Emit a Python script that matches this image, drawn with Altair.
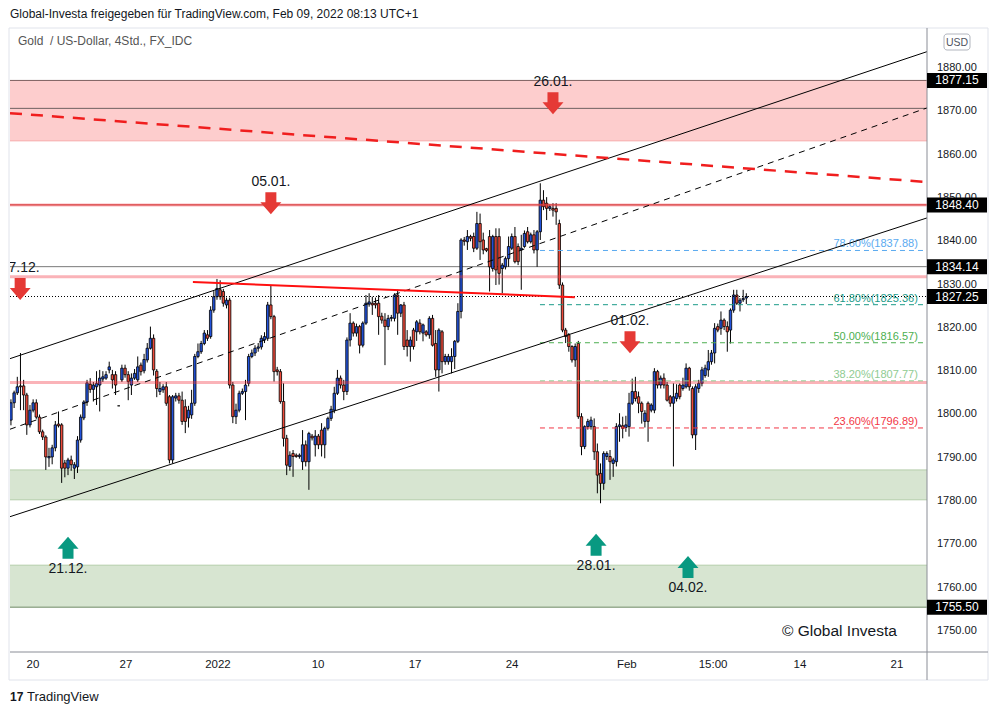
import altair as alt
import pandas as pd

# ---------------- candle data (4h bars) ----------------
open_ = [
1798.7,1802.7,1805.0,1806.6,1806.6,1804.5,1797.6,1801.0,1802.7,1799.4,
1796.0,1794.8,1790.0,1790.2,1792.3,1797.8,1797.6,1788.8,1787.6,1789.5,
1787.6,1787.9,1794.1,1799.2,1802.9,1807.0,1805.8,1806.4,1806.8,1808.2,
1808.4,1810.3,1809.2,1809.2,1802.0,1808.0,1810.7,1809.2,1806.8,1808.4,
1808.0,1811.4,1810.1,1812.6,1815.3,1817.6,1810.0,1805.3,1805.7,1806.4,
1804.1,1789.5,1803.8,1804.3,1803.3,1801.8,1799.2,1799.9,1802.6,1813.4,
1814.5,1816.4,1818.4,1818.0,1824.1,1827.2,1828.8,1828.4,1825.3,1826.4,
1806.8,1799.5,1801.0,1804.9,1805.3,1807.2,1813.4,1814.2,1815.3,1815.6,
1817.2,1817.6,1825.3,1822.6,1810.3,1809.9,1803.0,1794.5,1788.0,1791.0,
1790.6,1790.3,1789.1,1793.0,1789.1,1795.0,1793.0,1795.0,1796.4,1793.0,
1796.8,1799.1,1801.0,1804.9,1808.4,1806.8,1805.3,1817.2,1821.1,1818.8,
1820.3,1816.0,1821.1,1825.5,1825.7,1825.7,1825.7,1822.7,1821.8,1820.3,
1822.2,1822.2,1827.6,1823.4,1825.3,1817.2,1815.7,1819.5,1819.1,1821.1,
1818.8,1819.1,1818.4,1822.2,1816.4,1810.3,1819.1,1812.2,1812.2,1812.2,
1813.4,1816.9,1823.8,1840.3,1839.9,1841.1,1841.1,1838.4,1844.1,1840.3,
1838.3,1841.1,1833.7,1841.1,1841.1,1833.7,1834.1,1836.0,1838.4,1841.1,
1838.8,1838.0,1838.8,1842.2,1839.9,1841.5,1838.0,1842.2,1849.5,1848.8,
1847.6,1847.6,1847.6,1844.1,1829.9,1819.5,1818.4,1815.7,1812.6,1816.4,
1799.5,1792.6,1797.2,1797.2,1797.2,1791.4,1786.4,1784.1,1790.3,1790.3,
1788.7,1789.1,1797.2,1797.4,1797.0,1797.2,1802.6,1805.3,1804.1,1802.6,
1798.4,1802.6,1801.0,1801.0,1809.9,1806.8,1808.4,1806.8,1804.1,1802.6,
1803.7,1806.8,1806.0,1806.4,1810.7,1806.0,1795.3,1806.0,1807.2,1809.0,
1810.3,1812.2,1814.2,1820.3,1819.9,1821.8,1820.3,1819.5,1824.1,1827.6,
1825.7,1826.5,1826.9]

high = [
1803.5,1805.5,1808.7,1814.2,1808.0,1805.0,1802.2,1803.5,1803.5,1800.0,
1796.5,1795.2,1792.3,1793.0,1798.5,1800.7,1798.0,1789.5,1790.0,1790.5,
1789.0,1795.0,1800.0,1803.3,1808.0,1808.4,1807.5,1810.0,1810.3,1810.0,
1810.0,1812.2,1810.3,1810.0,1802.0,1811.5,1811.5,1810.0,1809.5,1810.5,
1813.4,1812.0,1814.0,1816.5,1820.3,1818.5,1810.5,1807.5,1807.0,1807.5,
1804.5,1804.5,1805.0,1805.0,1805.3,1803.5,1802.0,1805.7,1814.0,1816.4,
1817.0,1819.5,1819.5,1825.0,1828.5,1831.3,1831.0,1829.0,1827.0,1827.0,
1807.5,1802.5,1805.5,1806.0,1808.0,1814.0,1815.0,1816.0,1816.5,1818.3,
1819.0,1826.0,1829.7,1823.0,1811.0,1810.5,1807.2,1795.3,1791.5,1791.8,
1791.0,1791.0,1796.4,1794.0,1796.0,1795.5,1796.4,1795.5,1798.0,1797.2,
1799.5,1802.0,1806.4,1810.3,1809.0,1808.0,1817.8,1823.4,1821.5,1821.0,
1820.7,1821.5,1827.6,1828.0,1827.2,1827.0,1827.6,1823.5,1823.4,1823.0,
1823.0,1828.0,1828.8,1825.5,1826.0,1819.5,1818.0,1820.0,1821.8,1822.0,
1821.0,1819.5,1822.7,1823.0,1819.5,1819.9,1819.5,1814.0,1814.0,1815.3,
1817.2,1825.7,1840.7,1841.0,1842.6,1841.5,1842.0,1846.8,1846.4,1842.0,
1838.5,1842.6,1841.5,1843.0,1843.0,1835.0,1836.5,1841.1,1841.8,1843.3,
1839.5,1841.5,1842.5,1843.3,1842.0,1842.6,1842.6,1853.4,1851.8,1850.2,
1848.5,1848.8,1848.8,1845.0,1830.5,1820.0,1818.8,1816.0,1816.4,1817.0,
1800.3,1797.5,1799.0,1799.5,1799.1,1793.3,1788.7,1791.5,1791.5,1791.8,
1790.0,1798.0,1800.3,1799.5,1799.7,1805.0,1808.3,1808.7,1805.3,1803.0,
1801.0,1803.0,1802.6,1810.7,1810.3,1809.0,1809.5,1807.5,1804.5,1807.2,
1807.0,1807.2,1808.5,1811.8,1811.0,1806.5,1807.0,1808.0,1811.0,1811.5,
1814.9,1814.9,1821.1,1821.0,1823.8,1822.2,1821.5,1824.5,1828.8,1828.8,
1826.9,1828.8,1828.0]

low = [
1797.5,1801.5,1804.5,1801.0,1801.0,1795.3,1797.0,1800.5,1799.0,1795.5,
1794.1,1787.2,1787.9,1788.5,1791.5,1797.0,1784.2,1785.5,1786.0,1787.0,
1785.1,1786.5,1793.5,1798.7,1802.0,1805.0,1803.0,1802.2,1800.7,1807.5,
1808.0,1809.5,1806.0,1804.5,1802.0,1807.5,1808.5,1803.3,1804.5,1808.0,
1807.5,1809.0,1809.5,1812.0,1815.0,1809.0,1804.0,1804.5,1805.0,1802.0,
1788.7,1788.7,1803.0,1802.5,1797.6,1795.7,1797.0,1799.0,1802.0,1813.0,
1814.0,1816.0,1817.0,1817.5,1823.5,1826.5,1826.5,1824.9,1824.5,1806.0,
1798.0,1797.8,1800.5,1804.5,1798.7,1806.5,1813.0,1813.5,1814.5,1815.0,
1816.5,1817.0,1822.0,1807.6,1809.0,1802.5,1792.6,1786.0,1787.0,1785.6,
1790.0,1789.8,1787.2,1788.0,1782.6,1794.0,1790.3,1792.0,1790.3,1789.9,
1796.3,1798.5,1800.3,1804.5,1806.0,1803.3,1804.5,1815.7,1818.0,1818.0,
1814.1,1815.5,1820.7,1824.9,1823.0,1824.5,1818.4,1821.0,1811.4,1819.5,
1821.5,1821.5,1818.4,1822.5,1814.9,1813.4,1812.2,1815.0,1817.0,1818.5,
1816.9,1818.0,1817.5,1815.7,1808.7,1805.3,1809.5,1811.5,1811.5,1809.5,
1810.5,1816.5,1822.2,1839.0,1838.0,1840.0,1837.5,1838.0,1835.7,1837.0,
1837.5,1828.4,1833.0,1829.9,1830.0,1828.0,1833.5,1834.1,1838.0,1834.9,
1834.5,1828.8,1838.5,1839.5,1839.5,1837.2,1834.1,1840.3,1847.2,1844.9,
1847.0,1845.7,1843.8,1829.0,1819.0,1816.5,1814.5,1812.0,1811.0,1799.0,
1790.6,1792.0,1796.5,1796.5,1789.5,1781.8,1779.5,1782.6,1789.5,1784.9,
1785.6,1788.0,1793.7,1794.5,1796.0,1794.9,1802.2,1803.0,1800.3,1797.9,
1797.0,1793.7,1800.5,1800.3,1806.0,1806.0,1806.0,1803.0,1801.8,1788.0,
1803.0,1803.5,1805.5,1806.0,1805.5,1794.5,1791.8,1805.0,1806.5,1808.5,
1808.7,1811.5,1811.8,1819.0,1818.4,1819.5,1814.5,1816.4,1823.5,1825.3,
1823.8,1826.0,1825.5]

close = [
1802.7,1805.0,1806.4,1806.4,1804.5,1797.6,1801.0,1802.7,1799.4,1796.0,
1794.8,1790.2,1790.3,1792.3,1797.6,1797.4,1787.6,1787.6,1789.5,1788.4,
1788.4,1794.1,1799.4,1802.9,1807.3,1805.8,1806.8,1807.2,1808.4,1808.7,
1809.2,1811.0,1808.0,1806.8,1802.0,1810.7,1809.2,1807.6,1808.4,1809.5,
1811.0,1809.9,1812.7,1815.3,1817.6,1810.3,1806.0,1806.0,1806.4,1802.6,
1789.5,1804.1,1804.3,1803.3,1798.4,1798.4,1801.0,1802.6,1813.4,1814.5,
1816.4,1818.8,1817.6,1824.1,1827.2,1829.1,1827.2,1825.7,1826.4,1806.8,
1799.5,1801.0,1804.9,1805.3,1806.8,1813.4,1814.2,1815.3,1815.6,1817.6,
1818.0,1825.3,1822.6,1809.9,1809.9,1803.0,1794.5,1788.3,1790.6,1790.3,
1790.3,1790.6,1793.0,1789.1,1795.6,1794.6,1795.0,1793.0,1793.0,1796.8,
1799.1,1801.2,1804.9,1808.4,1806.8,1805.3,1817.2,1821.1,1818.8,1820.3,
1816.0,1821.1,1825.7,1826.0,1825.3,1825.3,1822.6,1821.8,1820.3,1822.2,
1822.4,1827.6,1823.4,1825.3,1815.7,1815.7,1817.2,1815.7,1821.4,1819.1,
1820.7,1818.4,1822.2,1816.0,1810.3,1819.5,1812.2,1813.4,1813.4,1813.4,
1816.9,1823.8,1840.3,1840.0,1841.1,1840.7,1838.4,1844.1,1839.9,1838.0,
1837.9,1834.1,1841.1,1833.4,1832.6,1834.5,1836.0,1838.8,1841.1,1835.3,
1835.3,1838.4,1841.8,1839.9,1841.5,1838.0,1842.2,1849.5,1848.0,1847.6,
1848.0,1847.2,1846.8,1829.9,1819.5,1818.0,1815.7,1812.6,1815.7,1799.5,
1792.6,1797.2,1798.4,1798.7,1791.4,1786.0,1784.1,1791.0,1791.0,1789.1,
1789.5,1797.2,1797.6,1796.8,1797.6,1802.6,1805.3,1803.7,1802.6,1800.7,
1800.3,1798.4,1802.2,1809.9,1806.8,1808.4,1806.8,1803.3,1802.6,1804.1,
1804.9,1804.1,1806.8,1810.7,1806.4,1795.3,1806.4,1807.2,1810.3,1810.7,
1812.2,1814.2,1819.9,1819.5,1821.8,1820.3,1819.1,1824.1,1827.6,1825.7,
1826.4,1826.8,1827.25]

# ---------------- axes ----------------
x_tick_pos = [6.96, 36.3, 65.3, 96.9, 127.5, 158.1, 194.3, 221.5, 248.9, 279.5]
x_tick_lab = ["20", "27", "2022", "10", "17", "24", "Feb", "15:00", "14", "21"]
y_tick_vals = [1750, 1760, 1770, 1780, 1790, 1800, 1810, 1820, 1830, 1840, 1850, 1860, 1870, 1880]
x_domain = [-0.3, 289.0]
y_domain = [1745.15, 1889.26]

# ---------------- drawings ----------------
price_tags = [1877.15, 1848.40, 1834.14, 1827.25, 1755.50]

red_zone = [1863.2, 1877.15]
green_zone_1 = [1780.3, 1787.2]
green_zone_2 = [1755.5, 1765.2]

down_arrow_i = [2.9, 82.0, 171.0, 195.3]
down_arrow_p = [1829.0, 1848.8, 1871.9, 1816.7]
down_arrow_lab = ["07.12.", "05.01.", "26.01.", "01.02."]
up_arrow_i = [18.0, 184.6, 213.6]
up_arrow_p = [1769.2, 1769.9, 1764.8]
up_arrow_lab = ["21.12.", "28.01.", "04.02."]

fib_pct = ["78.60%", "61.80%", "50.00%", "38.20%", "23.60%"]
fib_level = [1837.88, 1825.36, 1816.57, 1807.77, 1796.89]
fib_color = ["#5aaaf0", "#1a9a88", "#4caf50", "#8fcb92", "#f23645"]
fib_start_i = 166.9
fib_label_i = 286.1

channel_i = [-0.3, 289.0]
channel_upper = [1812.9, 1883.8]
channel_lower = [1776.4, 1845.4]
channel_mid = [1796.6, 1870.8]
red_dashed = [1869.6, 1853.7]
red_trend_i = [57.4, 177.9]
red_trend_p = [1830.6, 1827.1]

# ---------------- styling constants ----------------
FONT = "Liberation Sans"
BLUE = "#2253dc"
RED = "#ee4a3a"
W, H = 917, 624

xs = alt.Scale(domain=x_domain, nice=False, zero=False, padding=0)
ys = alt.Scale(domain=y_domain, nice=False, zero=False, padding=0)


def X(f):
    return alt.X(f"{f}:Q", scale=xs, axis=None)


def Y(f):
    return alt.Y(f"{f}:Q", scale=ys, axis=None)


one = pd.DataFrame({"a": [0]})
layers = []

# zones
zones = pd.DataFrame({
    "lo": [red_zone[0], green_zone_1[0], green_zone_2[0]],
    "hi": [red_zone[1], green_zone_1[1], green_zone_2[1]],
    "col": ["#fdcdcd", "#d7e5d1", "#d7e5d1"],
})
layers.append(alt.Chart(zones).mark_rect(clip=True).encode(
    x=alt.value(0), x2=alt.value(W), y=Y("lo"), y2="hi",
    color=alt.Color("col:N", scale=None)))

# thin horizontal lines (level, colour)
hlines = [
    (1877.15, "#7d5f5f"),
    (1870.7, "#6f6262"),
    (1863.2, "#f6a9a9"),
    (1787.2, "#b4cdaa"),
    (1780.3, "#b4cdaa"),
    (1765.2, "#b4cdaa"),
    (1755.5, "#6f8a66"),
    (1834.14, "#7a7a7a"),
]
for lvl, col in hlines:
    layers.append(alt.Chart(pd.DataFrame({"p": [lvl]})).mark_rule(
        color=col, strokeWidth=1, clip=True).encode(
        x=alt.value(0), x2=alt.value(W), y=Y("p")))

# candles
cdf = pd.DataFrame({"i": list(range(len(open_))), "o": open_, "h": high, "l": low, "c": close})
cdf["h"] = cdf[["h", "o", "c"]].max(axis=1)
cdf["l"] = cdf[["l", "o", "c"]].min(axis=1)
cdf["col"] = [BLUE if c >= o else RED for o, c in zip(cdf["o"], cdf["c"])]

wicks = alt.Chart(cdf).mark_rule(color="black", strokeWidth=1, clip=True).encode(
    x=X("i"), y=Y("l"), y2="h")
bodies = alt.Chart(cdf).mark_bar(size=2.4, stroke="black", strokeWidth=0.8, clip=True).encode(
    x=X("i"), y=Y("o"), y2="c", color=alt.Color("col:N", scale=None))
layers += [wicks, bodies]

# thick pink / red levels drawn above candles
for lvl, col, w, op in [(1831.8, "#f23645", 3, 0.38), (1807.4, "#f23645", 3, 0.38),
                        (1848.4, "#f23645", 3, 0.35), (1848.4, "#d84040", 1.2, 1.0)]:
    layers.append(alt.Chart(pd.DataFrame({"p": [lvl]})).mark_rule(
        color=col, strokeWidth=w, opacity=op, clip=True).encode(
        x=alt.value(0), x2=alt.value(W), y=Y("p")))

# current price dotted line
layers.append(alt.Chart(pd.DataFrame({"p": [price_tags[3]]})).mark_rule(
    color="#000000", strokeWidth=1, strokeDash=[1, 2], clip=True).encode(
    x=alt.value(0), x2=alt.value(W), y=Y("p")))

# fibonacci levels
fib = pd.DataFrame({
    "p": fib_level, "col": fib_color,
    "i0": [fib_start_i] * len(fib_level), "i1": [x_domain[1]] * len(fib_level),
    "il": [fib_label_i] * len(fib_level),
    "txt": [f"{a}({b:.2f})" for a, b in zip(fib_pct, fib_level)],
})
layers.append(alt.Chart(fib).mark_rule(strokeWidth=1, strokeDash=[5, 4], clip=True).encode(
    x=X("i0"), x2="i1", y=Y("p"), color=alt.Color("col:N", scale=None)))
layers.append(alt.Chart(fib).mark_text(align="right", baseline="bottom", dy=-1, font=FONT,
                                       fontSize=11, clip=True).encode(
    x=X("il"), y=Y("p"), text="txt:N", color=alt.Color("col:N", scale=None)))


# channel / trend lines
def two_point(ii, pp, **kw):
    return alt.Chart(pd.DataFrame({"i": ii, "p": pp})).mark_line(clip=True, **kw).encode(
        x=X("i"), y=Y("p"))


layers.append(two_point(channel_i, channel_upper, color="#000000", strokeWidth=1))
layers.append(two_point(channel_i, channel_lower, color="#000000", strokeWidth=1))
layers.append(two_point(channel_i, channel_mid, color="#000000", strokeWidth=1, strokeDash=[6, 5]))
layers.append(two_point(channel_i, red_dashed, color="#f01e1e", strokeWidth=2.5, strokeDash=[12, 9]))
layers.append(two_point(red_trend_i, red_trend_p, color="#ff1010", strokeWidth=2))

# arrows
DOWN = "M-0.55,-1.1L0.55,-1.1L0.55,-0.1L1.05,-0.1L0,1.1L-1.05,-0.1L-0.55,-0.1Z"
UP = "M-0.55,1.1L0.55,1.1L0.55,0.1L1.05,0.1L0,-1.1L-1.05,0.1L-0.55,0.1Z"
dn = pd.DataFrame({"i": down_arrow_i, "p": down_arrow_p, "t": down_arrow_lab})
upd = pd.DataFrame({"i": up_arrow_i, "p": up_arrow_p, "t": up_arrow_lab})
layers.append(alt.Chart(dn).mark_point(shape=DOWN, size=400, filled=True, opacity=1,
                                       color="#e53935", strokeWidth=0, clip=True).encode(
    x=X("i"), y=Y("p")))
layers.append(alt.Chart(dn).mark_text(dy=-21, font=FONT, fontSize=14, color="#131722",
                                      clip=True).encode(x=X("i"), y=Y("p"), text="t:N"))
layers.append(alt.Chart(upd).mark_point(shape=UP, size=400, filled=True, opacity=1,
                                        color="#089981", strokeWidth=0, clip=True).encode(
    x=X("i"), y=Y("p")))
layers.append(alt.Chart(upd).mark_text(dy=21, font=FONT, fontSize=14, color="#131722",
                                       clip=True).encode(x=X("i"), y=Y("p"), text="t:N"))

# frame lines
layers.append(alt.Chart(one).mark_rect(fillOpacity=0, stroke="#e0e3eb", strokeWidth=1).encode(
    x=alt.value(-1), x2=alt.value(978), y=alt.value(0), y2=alt.value(652)))
layers.append(alt.Chart(one).mark_rule(color="#8a8d96", strokeWidth=1).encode(
    x=alt.value(W), y=alt.value(0), y2=alt.value(652)))
layers.append(alt.Chart(one).mark_rule(color="#8a8d96", strokeWidth=1).encode(
    x=alt.value(0), x2=alt.value(978), y=alt.value(H)))

# price-scale labels (drawn as text through the y scale)
ylab = pd.DataFrame({"v": y_tick_vals, "t": [f"{v:.2f}" for v in y_tick_vals]})
layers.append(alt.Chart(ylab).mark_text(font=FONT, fontSize=11, color="#131722",
                                        align="left", baseline="middle").encode(
    x=alt.value(W + 10), y=Y("v"), text="t:N"))

# time-scale labels (drawn as text through the x scale)
xlab = pd.DataFrame({"v": x_tick_pos, "t": x_tick_lab})
layers.append(alt.Chart(xlab).mark_text(font=FONT, fontSize=11.5, color="#131722",
                                        align="center", baseline="middle").encode(
    x=X("v"), y=alt.value(H + 13), text="t:N"))

# price tags on the axis
tags = pd.DataFrame({"p": price_tags, "t": [f"{v:.2f}" for v in price_tags]})
TAG = "M-1,-0.25L1,-0.25L1,0.25L-1,0.25Z"
layers.append(alt.Chart(tags).mark_point(shape=TAG, size=3600, filled=True, opacity=1,
                                         color="#000000", strokeWidth=0).encode(
    x=alt.value(W + 30), y=Y("p")))
layers.append(alt.Chart(tags).mark_text(color="#ffffff", font=FONT, fontSize=12,
                                        align="center", baseline="middle").encode(
    x=alt.value(W + 30), y=Y("p"), text="t:N"))

# USD box
layers.append(alt.Chart(one).mark_rect(fill="#ffffff", stroke="#b2b5be", strokeWidth=1,
                                       cornerRadius=3).encode(
    x=alt.value(934), x2=alt.value(960), y=alt.value(6), y2=alt.value(22)))
layers.append(alt.Chart(one).mark_text(text="USD", font=FONT, fontSize=10.5, color="#50535e",
                                       align="center", baseline="middle").encode(
    x=alt.value(947), y=alt.value(14.5)))

# texts
layers.append(alt.Chart(one).mark_text(
    text="Global-Investa freigegeben für TradingView.com, Feb 09, 2022 08:13 UTC+1",
    font=FONT, fontSize=12, color="#131722", align="left", baseline="middle").encode(
    x=alt.value(0), y=alt.value(-14)))
layers.append(alt.Chart(one).mark_text(
    text="Gold\u00a0\u00a0/ US-Dollar, 4Std., FX_IDC", font=FONT, fontSize=12, color="#555555",
    align="left", baseline="middle").encode(x=alt.value(8), y=alt.value(13)))
layers.append(alt.Chart(one).mark_text(
    text="© Global Investa", font=FONT, fontSize=15.5, color="#131722",
    align="left", baseline="middle").encode(x=alt.value(772), y=alt.value(603)))
layers.append(alt.Chart(one).mark_text(
    text="17", font=FONT, fontSize=12, fontWeight="bold", color="#131722",
    align="left", baseline="middle").encode(x=alt.value(0), y=alt.value(669)))
layers.append(alt.Chart(one).mark_text(
    text="TradingView", font=FONT, fontSize=13, color="#131722",
    align="left", baseline="middle").encode(x=alt.value(17), y=alt.value(669)))

chart = alt.layer(*layers).properties(
    width=W, height=H,
    autosize=alt.AutoSizeParams(type="none"),
    padding={"left": 2, "top": 20, "right": 62, "bottom": 55},
    background="#ffffff",
).configure_view(strokeWidth=0)

chart.save("out.html", embed_options={"renderer": "svg", "actions": False})
